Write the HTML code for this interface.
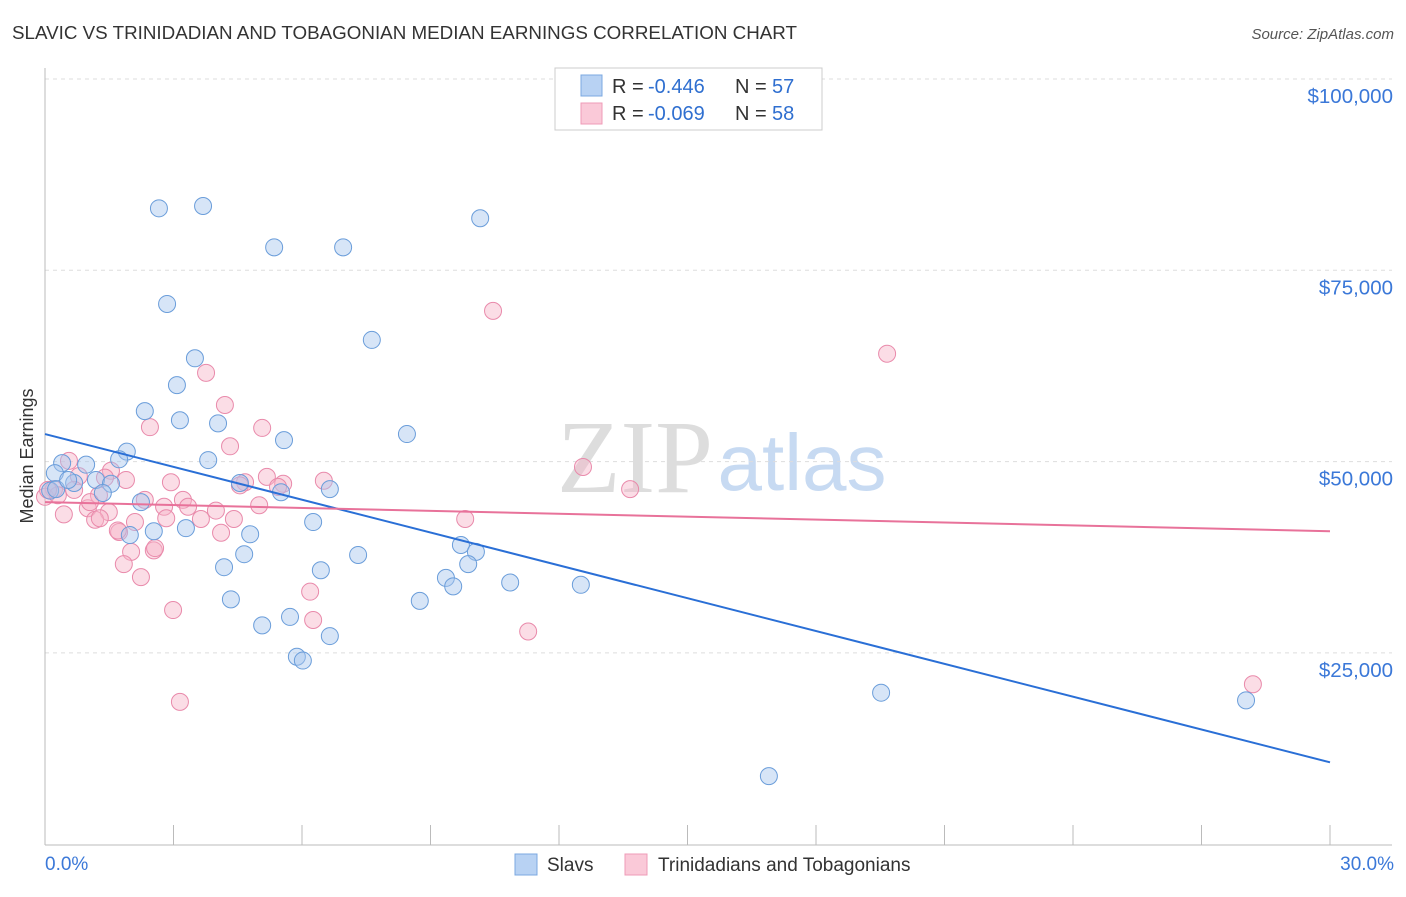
<!DOCTYPE html>
<html><head><meta charset="utf-8">
<style>
body{margin:0;background:#fff;font-family:"Liberation Sans",sans-serif;}
svg text{font-family:"Liberation Sans",sans-serif;}
</style></head>
<body>
<svg id="chart" width="1406" height="892" viewBox="0 0 1406 892">
<text x="12" y="39" font-size="18.5" fill="#333" textLength="785" lengthAdjust="spacingAndGlyphs">SLAVIC VS TRINIDADIAN AND TOBAGONIAN MEDIAN EARNINGS CORRELATION CHART</text>
<text x="1394" y="39" font-size="15" fill="#555" font-style="italic" text-anchor="end">Source: ZipAtlas.com</text>
<text x="33" y="456" font-size="18" fill="#333" text-anchor="middle" transform="rotate(-90 33 456)">Median Earnings</text>
<g>
<text x="635" y="492" font-size="104" fill="#ddd" text-anchor="middle" style="font-family:'Liberation Serif',serif">ZIP</text>
<text x="802" y="490" font-size="80" fill="#c7daf2" text-anchor="middle">atlas</text>
</g>
<g id="grid"></g>
<g id="axes"></g>
<g id="marks"></g>
<g>
<rect x="555" y="68" width="267" height="62" fill="#fff" stroke="#ccc"/>
<rect x="581" y="75" width="21" height="21" fill="#b8d2f3" stroke="#7ba8e0"/>
<rect x="581" y="103" width="21" height="21" fill="#fac9d8" stroke="#ef9bb7"/>
<g font-size="20">
<text x="612" y="93" fill="#333">R =</text><text x="648" y="93" fill="#2f6fd0">-0.446</text>
<text x="735" y="93" fill="#333">N =</text><text x="772" y="93" fill="#2f6fd0">57</text></g>
<g font-size="20">
<text x="612" y="120" fill="#333">R =</text><text x="648" y="120" fill="#2f6fd0">-0.069</text>
<text x="735" y="120" fill="#333">N =</text><text x="772" y="120" fill="#2f6fd0">58</text></g>
</g>
<g>
<rect x="515" y="854" width="22" height="21" fill="#b8d2f3" stroke="#7ba8e0"/>
<text x="547" y="871" font-size="19" fill="#333">Slavs</text>
<rect x="625" y="854" width="22" height="21" fill="#fac9d8" stroke="#ef9bb7"/>
<text x="658" y="871" font-size="19" fill="#333">Trinidadians and Tobagonians</text>
</g>
</svg>
<script>
const yTicks=[25000,50000,75000,100000];
const yTickLabels=["$25,000","$50,000","$75,000","$100,000"];
const xTickLabels=["0.0%","30.0%"];
const slavX=[2.66,3.69,10.16,5.35,6.96,2.85,7.63,3.50,3.08,2.33,3.15,4.04,8.45,5.58,1.91,3.81,1.73,0.96,0.40,0.23,1.19,1.54,0.68,4.55,1.35,5.51,6.65,0.12,2.24,6.26,3.29,2.54,4.79,1.98,9.71,7.31,4.65,10.06,4.18,9.88,6.44,9.36,9.53,10.86,12.51,4.34,8.75,5.72,5.07,6.65,5.88,6.02,19.52,28.04,16.90,0.26,0.54];
const slavY=[83100,83400,81800,78000,78000,70600,65900,63500,60000,56600,55400,55000,53600,52800,51300,50200,50300,49600,49800,48500,47600,47100,47200,47200,45900,46000,46400,46200,44700,42100,41300,40900,40500,40400,39100,37800,37900,38200,36200,36600,35800,34800,33700,34200,33900,32000,31800,29700,28600,27200,24500,24000,19800,18800,8900,46400,47600];
const triX=[10.46,19.66,3.76,4.20,2.45,5.07,4.32,0.56,12.56,1.54,0.79,1.89,2.94,4.67,5.18,5.56,6.51,13.66,0.21,0,1.26,2.33,3.22,2.78,3.34,3.99,5.00,0.44,1.49,1.00,1.17,1.73,2.10,2.83,3.64,4.41,4.11,9.81,1.70,2.54,2.01,1.84,2.24,2.99,6.19,6.26,11.28,3.15,28.20,1.28,0.30,0.07,1.05,1.40,4.55,5.44,2.57,0.68];
const triY=[69700,64100,61600,57400,54500,54400,52000,50100,49300,48800,48100,47600,47300,47300,48000,47100,47500,46400,46400,45400,45600,45000,45000,44100,44100,43600,44300,43100,43400,43900,42400,40800,42100,42600,42500,42500,40700,42500,41000,38400,38200,36600,34900,30600,33000,29300,27800,18600,20900,42600,45600,46300,44700,47900,46900,46700,38700,46300];
const slavTrend=[53600,10700];
const triTrend=[44700,40900];
const xDomain=[0,30];

const NS="http://www.w3.org/2000/svg";
const L=45,R=1330,T=79,B=845;
function xs(v){return L+(v-xDomain[0])/(xDomain[1]-xDomain[0])*(R-L);}
function ys(v){return T+(100000-v)/25000*191.3;}
function mk(tag,attrs,parent){const e=document.createElementNS(NS,tag);for(const k in attrs)e.setAttribute(k,attrs[k]);parent.appendChild(e);return e;}
const grid=document.getElementById('grid'),axes=document.getElementById('axes'),marks=document.getElementById('marks');
yTicks.forEach((t,i)=>{
 const g=mk('line',{x1:L,x2:1392,y1:ys(t),y2:ys(t),stroke:'#ddd','stroke-dasharray':'4,4'},grid);
 
 
 const tx=mk('text',{x:1393,y:ys(t)+24,'font-size':20.5,fill:'#3b78d8','text-anchor':'end'},axes);
 tx.textContent=yTickLabels[i];
 
 
});
const ax=mk('line',{x1:L,x2:1392,y1:B,y2:B,stroke:'#bbb'},axes);


const ay=mk('line',{x1:L,x2:L,y1:68,y2:B,stroke:'#bbb'},axes);


for(let i=0;i<=10;i++){
 const v=xDomain[0]+i*(xDomain[1]-xDomain[0])/10;
 const tk=mk('line',{x1:xs(v),x2:xs(v),y1:825,y2:B,stroke:'#bbb'},axes);
 
 
}
[[xDomain[0],'start',45],[xDomain[1],'end',1394]].forEach((d,i)=>{
 const tx=mk('text',{x:d[2],y:870,'font-size':19,fill:'#3b78d8','text-anchor':d[1]},axes);
 tx.textContent=xTickLabels[i];
 
 
});
function dots(X,Y,fill,stroke,name){
 X.forEach((x,i)=>{
  const c=mk('circle',{cx:xs(x),cy:ys(Y[i]),r:8.5,fill:fill,'fill-opacity':0.45,stroke:stroke,'stroke-width':1},marks);
  
  
 });
}
dots(triX,triY,'#f7b3c8','#e98aab','trinidadian-point');
dots(slavX,slavY,'#a7c6ee','#6a9dda','slav-point');
const l1=mk('line',{x1:xs(xDomain[0]),x2:xs(xDomain[1]),y1:ys(slavTrend[0]),y2:ys(slavTrend[1]),stroke:'#2a6fd6','stroke-width':2},marks);


const l2=mk('line',{x1:xs(xDomain[0]),x2:xs(xDomain[1]),y1:ys(triTrend[0]),y2:ys(triTrend[1]),stroke:'#e8729a','stroke-width':2},marks);


</script>
</body></html>
